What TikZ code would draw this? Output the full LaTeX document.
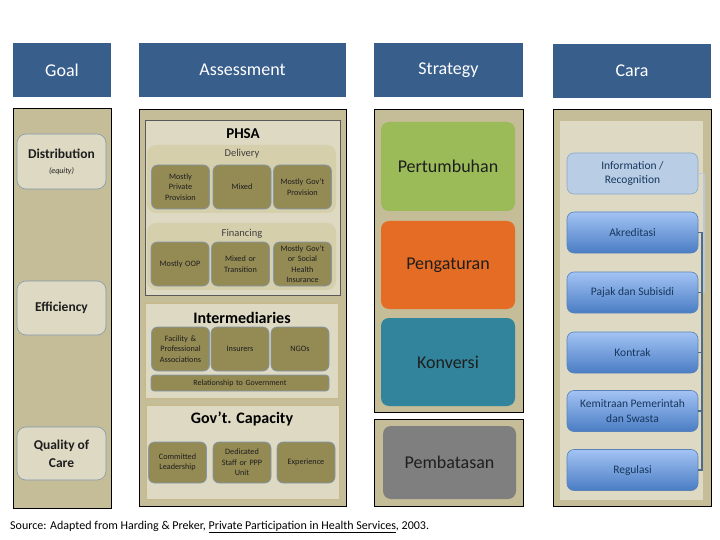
\documentclass[tikz,border=0pt]{standalone}
\usepackage{fontspec}
\setmainfont{Carlito}
\usepackage{xcolor}
\usepackage{tikz}
\usetikzlibrary{positioning, arrows.meta}
\definecolor{hdblue}{HTML}{385E8C}
\definecolor{coltan}{HTML}{C4BD97}
\definecolor{paneltan}{HTML}{DDD9C3}
\definecolor{grouptan}{HTML}{D5CFAC}
\definecolor{olive}{HTML}{948A54}
\definecolor{slateedge}{HTML}{8497B0}
\definecolor{goldedge}{HTML}{C9B98A}
\definecolor{stgreen}{HTML}{9BBB59}
\definecolor{storange}{HTML}{E46C24}
\definecolor{stteal}{HTML}{31849B}
\definecolor{stgray}{HTML}{7F7F7F}
\definecolor{caranavy}{HTML}{17375E}
\definecolor{carapale}{HTML}{B9CDE5}
\definecolor{caratop}{HTML}{A3C3F4}
\definecolor{carabot}{HTML}{4A7DC4}
\definecolor{caraedge}{HTML}{5A82B8}
\definecolor{linkdark}{HTML}{4F6B8A}
\definecolor{linkpale}{HTML}{BCC8D8}
\definecolor{soft}{HTML}{1E1E1E}
\newcommand{\fsHead}{\fontsize{18}{21}\selectfont}
\newcommand{\fsGoal}{\fontsize{13.5}{18}\selectfont\bfseries}
\newcommand{\fsPanel}{\fontsize{16}{19}\selectfont\bfseries}
\newcommand{\fsGroup}{\fontsize{10.5}{12}\selectfont}
\newcommand{\fsCell}{\fontsize{8.2}{10.5}\selectfont}
\newcommand{\fsStrat}{\fontsize{18}{21}\selectfont}
\newcommand{\fsCara}{\fontsize{11.5}{14.5}\selectfont}
\newcommand{\fsNote}{\fontsize{12}{14}\selectfont}

\begin{document}
\begin{tikzpicture}[x=1pt, y=-1pt,
  every node/.style={inner sep=1pt, align=center},
  hdbox/.style={fill=hdblue, text=white, font=\fsHead, minimum height=54},
  colbox/.style={fill=coltan, draw=black, line width=0.8pt},
  goalitem/.style={fill=paneltan, draw=slateedge, line width=0.6pt, rounded corners=9pt,
    minimum width=89, font=\fsGoal, text=soft},
  panel/.style={fill=paneltan, draw=#1, line width=0.8pt},
  groupbox/.style={fill=grouptan, rounded corners=9pt},
  cell/.style={fill=olive, draw=slateedge, line width=0.6pt, rounded corners=6pt,
    minimum width=58, minimum height=44, text width=56, font=\fsCell, text=soft},
  stratbox/.style={fill=#1, rounded corners=8pt, minimum width=134, minimum height=88,
    font=\fsStrat, text=soft},
  carabox/.style={top color=caratop, bottom color=carabot, draw=caraedge, line width=0.6pt,
    rounded corners=7pt, minimum width=131, minimum height=41, font=\fsCara, text=caranavy},
  link/.style={line width=1.8pt, draw=#1}]
  \useasboundingbox (0,0) rectangle (720,540);
  \fill[white] (0,0) rectangle (720,540);

  % headers
  \node[hdbox, minimum width=98] (goalhd) at (62,70.5) {Goal};
  \node[hdbox, minimum width=207] (assesshd) at (242.5,70) {Assessment};
  \node[hdbox, minimum width=149] (strathd) at (448.5,70) {Strategy};
  \node[hdbox, minimum width=158] (carahd) at (632,71) {Cara};

  % column backgrounds
  \draw[colbox] (13,108) rectangle (111,508);
  \draw[colbox] (139,109) rectangle (346,506);
  \draw[colbox] (374,109) rectangle (523,412);
  \draw[colbox] (374,419) rectangle (523,506);
  \draw[colbox] (553,109) rectangle (711,506);
  \fill[paneltan] (560,121) rectangle (703,500);

  % goal
  \node[goalitem, minimum height=55] (distrib) at (61.5,161.5)
    {Distribution\\[-3pt]{\fontsize{8}{9}\selectfont\mdseries\itshape (equity)}};
  \node[goalitem, minimum height=54] (effic) at (61.5,308) {Efficiency};
  \node[goalitem, minimum height=53] (quality) at (61.5,453.5) {Quality of\\Care};

  % assessment: PHSA
  \draw[panel=black!65] (145,120) rectangle (340,295);
  \node[font=\fontsize{15}{18}\selectfont\bfseries, text=black] (phsa) at (243,134) {PHSA};
  \fill[groupbox] (147,145) rectangle (336,213);
  \node[font=\fsGroup, text=black!75] (delivery) at (242,154) {Delivery};
  \node[cell] (deliv1) at (180.5,187) {Mostly\\Private\\Provision};
  \node[cell] (deliv2) at (242,187) {Mixed};
  \node[cell] (deliv3) at (302.5,187) {Mostly Gov't\\Provision};
  \fill[groupbox] (147,223) rectangle (336,290);
  \node[font=\fsGroup, text=black!75] (financing) at (242,234) {Financing};
  \node[cell] (fin1) at (180,264) {Mostly OOP};
  \node[cell] (fin2) at (240.5,264) {Mixed or\\Transition};
  \node[cell] (fin3) at (302.5,264) {Mostly Gov't\\or Social\\Health\\Insurance};

  % assessment: intermediaries
  \draw[panel=goldedge] (145,303) rectangle (338,398);
  \node[font=\fsPanel, text=black] (interm) at (242,318) {Intermediaries};
  \node[cell] (inter1) at (180.5,349) {Facility \&\\Professional\\Associations};
  \node[cell] (inter2) at (240,349) {Insurers};
  \node[cell] (inter3) at (300,349) {NGOs};
  \node[cell, minimum width=178, text width=170, minimum height=16, rounded corners=3pt,
    font=\fontsize{8}{9}\selectfont] (relgov) at (240,383) {Relationship to Government};

  % assessment: government capacity
  \draw[panel=goldedge] (146,405) rectangle (339,499);
  \node[font=\fsPanel, text=black] (govcap) at (242,419) {Gov't. Capacity};
  \node[cell, minimum height=41] (gov1) at (177.5,462.5) {Committed\\Leadership};
  \node[cell, minimum height=41] (gov2) at (242,462.5) {Dedicated\\Staff or PPP\\Unit};
  \node[cell, minimum height=41] (gov3) at (306,462.5) {Experience};

  % strategy
  \node[stratbox=stgreen, minimum height=89] (tumbuh) at (448,166.5) {Pertumbuhan};
  \node[stratbox=storange] (atur) at (448,265) {Pengaturan};
  \node[stratbox=stteal] (konversi) at (448,362) {Konversi};
  \node[stratbox=stgray, minimum width=133, minimum height=73] (batas) at (449.5,462.5) {Pembatasan};

  % cara
  \node[carabox, top color=carapale, bottom color=carapale, draw=caraedge!70] (info) at (632.5,173.5)
    {Information /\\Recognition};
  \node[carabox] (akred) at (632.5,232.5) {Akreditasi};
  \node[carabox] (pajak) at (632.5,292.5) {Pajak dan Subisidi};
  \node[carabox] (kontrak) at (632.5,352.5) {Kontrak};
  \node[carabox] (kemitraan) at (632.5,411) {Kemitraan Pemerintah\\dan Swasta};
  \node[carabox] (regulasi) at (632.5,470) {Regulasi};
  \draw[link=linkpale] (info.east) -- ++(6,0) |- (pajak.east);
  \foreach \a/\b in {akred/pajak, pajak/kontrak, kontrak/kemitraan, kemitraan/regulasi}
    \draw[link=linkdark] (\a.east) -- ++(4,0) |- (\b.east);

  % source
  \node[anchor=west, font=\fsNote, text=black] (source) at (9,527)
    {Source: Adapted from Harding \& Preker, \underline{Private Participation in Health Services}, 2003.};
\end{tikzpicture}
\end{document}
